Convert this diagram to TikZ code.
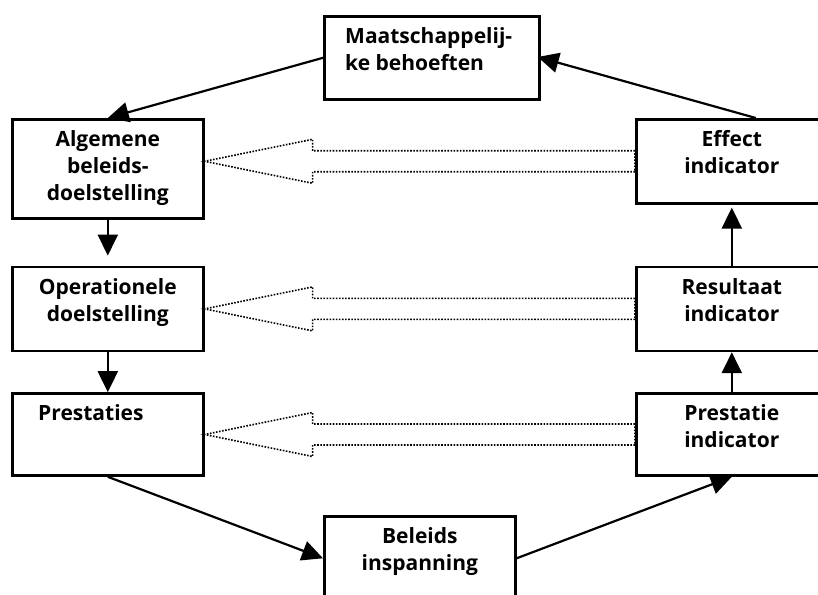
\documentclass[tikz,border=0pt]{standalone}
\usepackage{fontspec}
\setmainfont{Open Sans}
\usetikzlibrary{arrows.meta,calc,positioning}

% dotted block arrow from the left side of #1 to the right side of #2
\newcommand{\hollowarrow}[2]{%
  \draw[hollow] ($(#1.west)+(0,10.5)$) -- ($(#2.east|-#1.west)+(108,10.5)$) -- ++(0,11.5)
    -- (#2.east|-#1.west) -- ++(108,-22) -- ++(0,11.5) -- ($(#1.west)+(0,-10.5)$) -- cycle;}

\begin{document}
\begin{tikzpicture}[
    x=1pt, y=1pt,
    box/.style={draw, line width=2.6pt, minimum width=191pt, minimum height=84pt, inner sep=0pt},
    txt/.style={font=\fontsize{21}{27}\selectfont\bfseries, align=center, inner sep=0pt},
    arrow/.style={line width=2.2pt, -{Triangle[width=20pt, length=21pt]}},
    hollow/.style={line width=1.6pt, dash pattern=on 1.6pt off 1.5pt},
  ]
  \useasboundingbox (0,0) rectangle (818,594);

  % left column
  \node[box, minimum height=99pt, anchor=north west] (alg) at (11,476) {};
  \node[box, below=46pt of alg] (op) {};
  \node[box, minimum height=82pt, below=40pt of op] (prest) {};
  % right column
  \node[box, anchor=north west] (eff) at (635,476) {};
  \node[box, below=61pt of eff] (res) {};
  \node[box, minimum height=82pt, below=40pt of res] (pind) {};
  % top and bottom
  \node[box, minimum width=215pt, minimum height=83pt, anchor=north west] (maat) at (323,579) {};
  \node[box, anchor=north west] (bel) at (323,79) {};

  \node[txt, align=left, below right=12.5pt and 22pt of maat.north west] (maattxt) {Maatschappelij-\\ke behoeften};
  \node[txt, below=12.5pt of alg.north] (algtxt) {Algemene\\beleids-\\doelstelling};
  \node[txt, below=12.5pt of op.north] (optxt) {Operationele\\doelstelling};
  \node[txt, align=left, below right=12.5pt and 27pt of prest.north west] (presttxt) {Prestaties};
  \node[txt, below=12.5pt of eff.north] (efftxt) {Effect\\indicator};
  \node[txt, below=12.5pt of res.north] (restxt) {Resultaat\\indicator};
  \node[txt, below=12.5pt of pind.north] (pindtxt) {Prestatie\\indicator};
  \node[txt, below=12.5pt of bel.north] (beltxt) {Beleids\\inspanning};

  \draw[arrow] (maat.west) -- (alg.north);
  \draw[arrow, shorten >=10pt] (alg.south) -- (op.north);
  \draw[arrow] (op) -- (prest);
  \draw[arrow] (prest.south) -- (bel.west);
  \draw[arrow] (bel.east) -- (pind.south);
  \draw[arrow] (pind) -- (res);
  \draw[arrow, shorten >=3pt] (res) -- (eff);
  \draw[arrow, shorten >=-3pt] ([xshift=24pt]eff.north) -- (maat.east);

  \hollowarrow{eff}{alg}
  \hollowarrow{res}{op}
  \hollowarrow{pind}{prest}
\end{tikzpicture}
\end{document}
